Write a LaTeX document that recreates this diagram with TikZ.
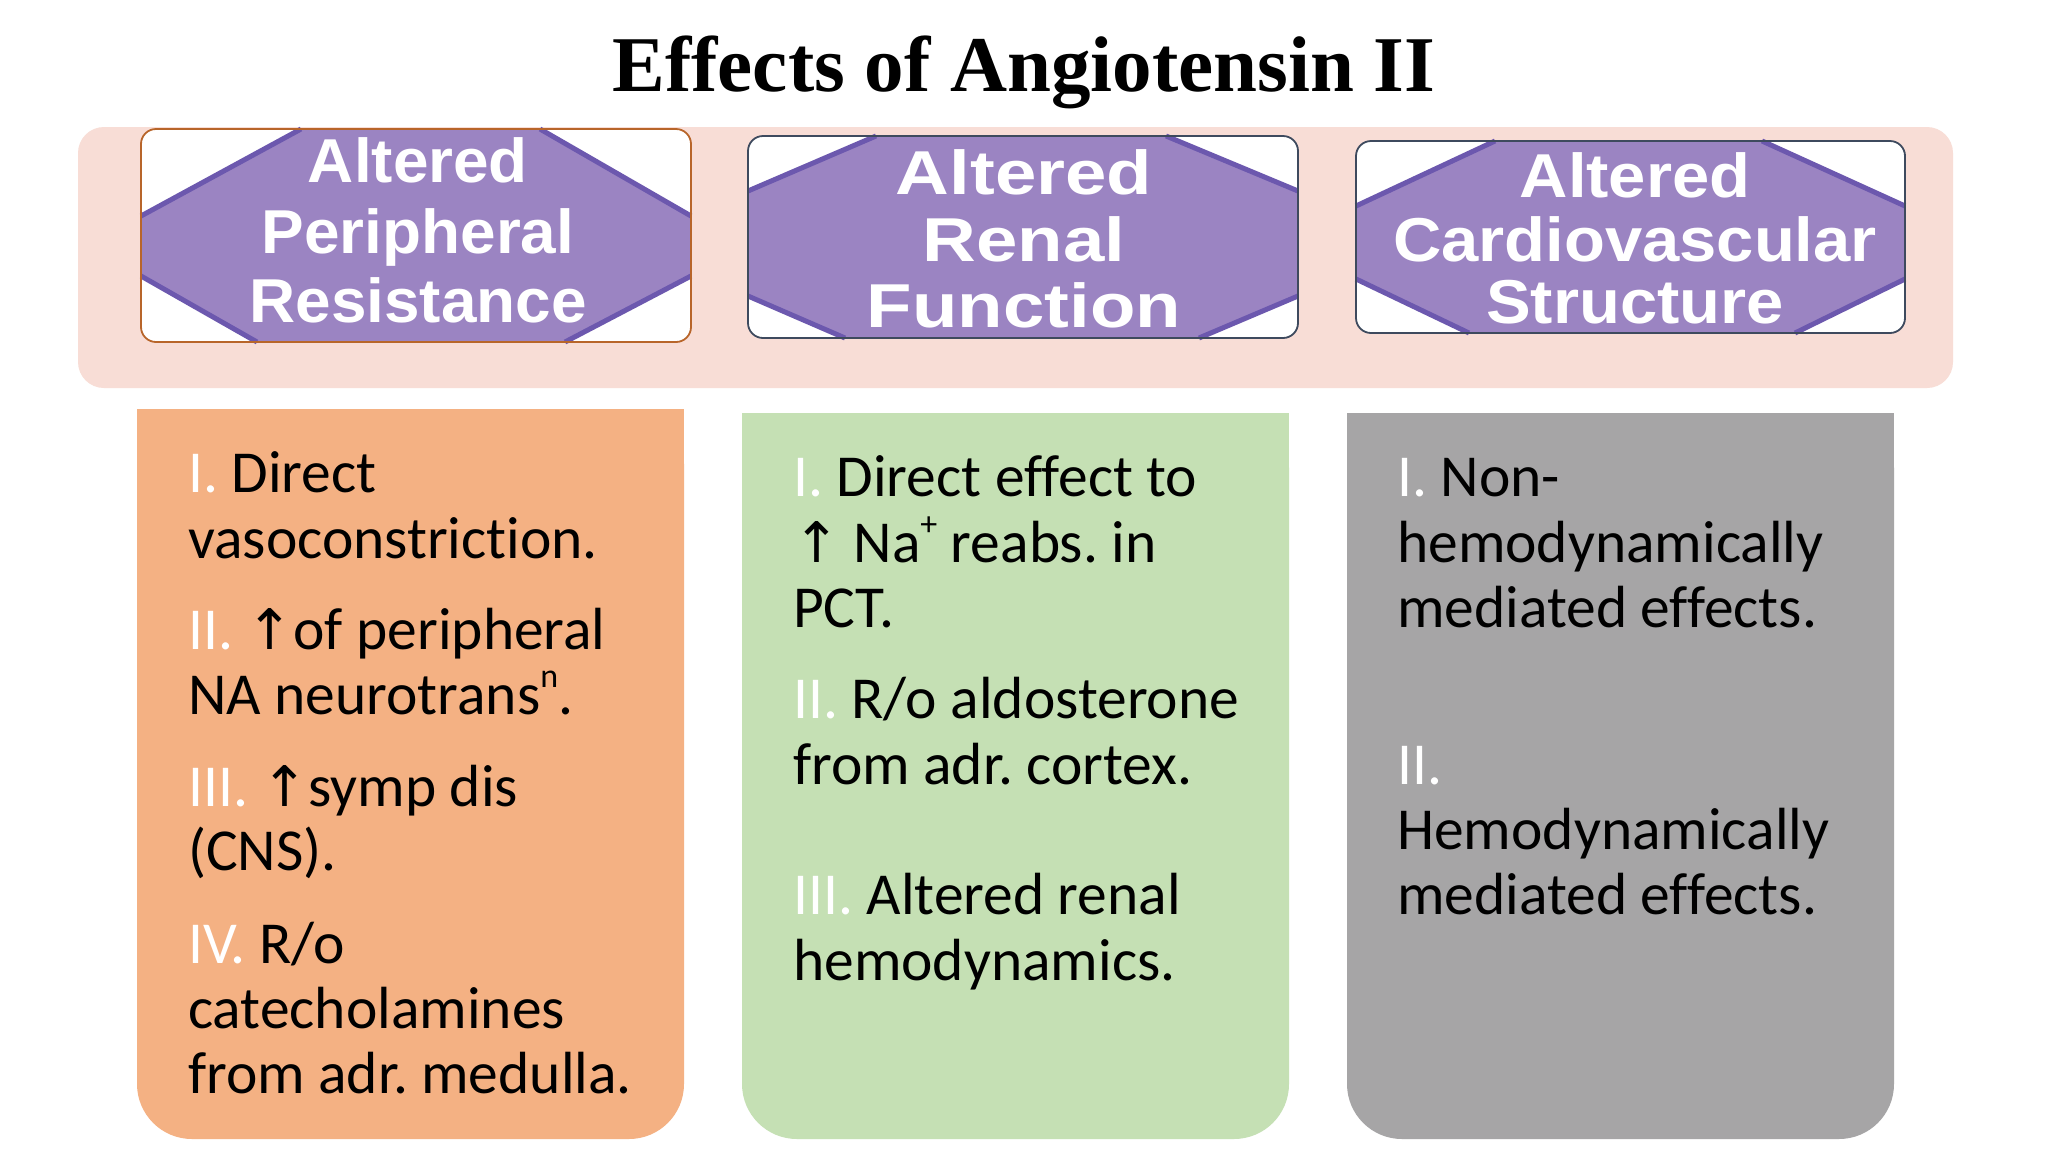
\documentclass[tikz,border=0pt]{standalone}
\usepackage{fontspec}
\setmainfont{Carlito}[Ligatures=NoCommon]
\newfontfamily\titlefont{Liberation Serif}
\newfontfamily\headfont{Liberation Sans}
\newfontfamily\symfont{DejaVu Sans}
\frenchspacing
\definecolor{bandpink}{HTML}{F8DDD6}
\definecolor{orangefill}{HTML}{F4B183}
\definecolor{greenfill}{HTML}{C5E0B4}
\definecolor{grayfill}{HTML}{A6A5A6}
\definecolor{hexfill}{HTML}{9B84C2}
\definecolor{hexedge}{HTML}{6C58AE}
\definecolor{borderA}{HTML}{B8652A}
\definecolor{borderB}{HTML}{3E4A5E}
\newcommand\rn[1]{\textcolor{white}{#1}}
\newcommand\upar{{\symfont\fontsize{56}{56}\selectfont ↑}}
\newcommand\supx[1]{\raisebox{0.45em}{\fontsize{34}{34}\selectfont #1}}
\tikzset{
  txt/.style={anchor=base west, inner sep=0pt, font=\fontsize{59.5}{65}\selectfont},
  headtxt/.style={anchor=base, inner sep=0pt, text=white, font=\headfont\bfseries\fontsize{62}{68}\selectfont},
  hexedgeline/.style={draw=hexedge, line width=5pt},
  hbox/.style={rounded corners=15pt, line width=1.8pt}
}
\begin{document}
\begin{tikzpicture}[x=1pt,y=-1pt]
\useasboundingbox (0,0) rectangle (2048,1152);
\fill[white] (0,0) rectangle (2048,1152);
% title
\node[anchor=base, inner sep=0pt, font=\titlefont\bfseries\fontsize{79}{90}\selectfont] (title) at (1024,91) {Effects of Angiotensin II};
% pink band
\fill[bandpink, rounded corners=26pt] (78,127) rectangle (1953,388);
% header box 1
\fill[white, rounded corners=15pt] (141,129) rectangle (691,342);
\fill[hexfill] (141,216) -- (301,129) -- (540,129) -- (691,216) -- (691,276) -- (565,342) -- (257,342) -- (141,276) -- cycle;
\draw[hexedgeline] (141,216) -- (301,129) (540,129) -- (691,216) (691,276) -- (565,342) (257,342) -- (141,276);
\draw[hbox, draw=borderA] (141,129) rectangle (691,342);
\node[headtxt] (h1a) at (418,182) {\scalebox{1.03}[1]{Altered}};
\node[headtxt] (h1b) at (418,253) {\scalebox{1.03}[1]{Peripheral}};
\node[headtxt] (h1c) at (418,322) {\scalebox{1.03}[1]{Resistance}};
% header box 2
\fill[white, rounded corners=15pt] (748,136) rectangle (1298,338);
\fill[hexfill] (748,191) -- (876,136) -- (1166,136) -- (1298,191) -- (1298,296) -- (1199,338) -- (845,338) -- (748,296) -- cycle;
\draw[hexedgeline] (748,191) -- (876,136) (1166,136) -- (1298,191) (1298,296) -- (1199,338) (845,338) -- (748,296);
\draw[hbox, draw=borderB] (748,136) rectangle (1298,338);
\node[headtxt] (h2a) at (1024,194) {\scalebox{1.2}[1]{Altered}};
\node[headtxt] (h2b) at (1024,261) {\scalebox{1.2}[1]{Renal}};
\node[headtxt] (h2c) at (1024,327) {\scalebox{1.2}[1]{Function}};
% header box 3
\fill[white, rounded corners=15pt] (1356,141) rectangle (1905,333);
\fill[hexfill] (1356,206) -- (1495,141) -- (1762,141) -- (1905,206) -- (1905,279) -- (1795,333) -- (1469,333) -- (1356,279) -- cycle;
\draw[hexedgeline] (1356,206) -- (1495,141) (1762,141) -- (1905,206) (1905,279) -- (1795,333) (1469,333) -- (1356,279);
\draw[hbox, draw=borderB] (1356,141) rectangle (1905,333);
\node[headtxt] (h3a) at (1635,197) {\scalebox{1.08}[1]{Altered}};
\node[headtxt] (h3b) at (1635,261) {\scalebox{1.08}[1]{Cardiovascular}};
\node[headtxt] (h3c) at (1635,323) {\scalebox{1.08}[1]{Structure}};
% content boxes
\fill[orangefill, rounded corners=55pt] (137,409) rectangle (684,1139);
\fill[orangefill] (137,409) rectangle (684,700);
\fill[greenfill, rounded corners=55pt] (742,413) rectangle (1289,1139);
\fill[greenfill] (742,413) rectangle (1289,700);
\fill[grayfill, rounded corners=55pt] (1347,413) rectangle (1894,1139);
\fill[grayfill] (1347,413) rectangle (1894,700);
% orange text
\node[txt] (o1) at (188,492) {\rn{I.} Direct};
\node[txt] (o2) at (188,558) {vasoconstriction.};
\node[txt] (o3) at (188,649) {\rn{II.} \upar of peripheral};
\node[txt] (o4) at (188,714) {NA neurotrans\supx{n}.};
\node[txt] (o5) at (188,806) {\rn{III.} \upar symp dis};
\node[txt] (o6) at (188,870) {(CNS).};
\node[txt] (o7) at (188,963) {\rn{IV.} R/o};
\node[txt] (o8) at (188,1028) {catecholamines};
\node[txt] (o9) at (188,1093) {from adr. medulla.};
% green text
\node[txt] (g1) at (793,496) {\rn{I.} Direct effect to};
\node[txt] (g2) at (793,562) {\upar{} Na\supx{+} reabs. in};
\node[txt] (g3) at (793,627) {PCT.};
\node[txt] (g4) at (793,718) {\rn{II.} R/o aldosterone};
\node[txt] (g5) at (793,784) {from adr. cortex.};
\node[txt] (g6) at (793,914) {\rn{III.} Altered renal};
\node[txt] (g7) at (793,980) {hemodynamics.};
% gray text
\node[txt] (r1) at (1397,496) {\rn{I.} Non-};
\node[txt] (r2) at (1397,562) {hemodynamically};
\node[txt] (r3) at (1397,627) {mediated effects.};
\node[txt] (r4) at (1397,784) {\rn{II.}};
\node[txt] (r5) at (1397,849) {Hemodynamically};
\node[txt] (r6) at (1397,914) {mediated effects.};
\end{tikzpicture}
\end{document}
